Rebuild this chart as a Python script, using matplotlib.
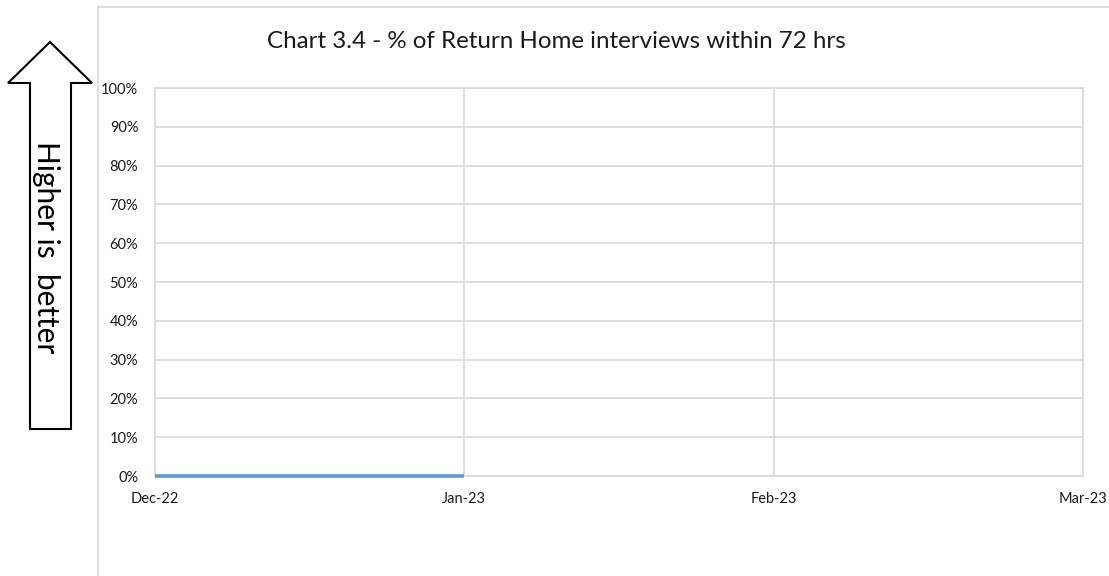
import numpy as np
import matplotlib.pyplot as plt
from matplotlib.patches import Polygon
from matplotlib.lines import Line2D


##### Chart data

months = ['Dec-22', 'Jan-23', 'Feb-23', 'Mar-23']
pct_within_72h = [0.0, 0.0, np.nan, np.nan]
y_ticks = np.arange(0, 1.01, 0.1)

title_text = 'Chart 3.4 - % of Return Home interviews within 72 hrs'
arrow_text = 'Higher is  better'

W, H = 1109, 576
plt.rcParams['font.family'] = ['Lato', 'DejaVu Sans']

fig = plt.figure(figsize=(W / 100, H / 100), dpi=100)


def px(x, y):
    # pixel coords (top-left origin) -> figure fraction
    return (x / W, 1 - y / H)


##### Chart area frame (Excel style, partly cut off)
frame_col = '#d9d9d9'
fig.add_artist(Line2D([98 / W, 98 / W], [1 - 7 / H, 0], color=frame_col, lw=1.2, transform=fig.transFigure))
fig.add_artist(Line2D([98 / W, 1], [1 - 7 / H, 1 - 7 / H], color=frame_col, lw=1.2, transform=fig.transFigure))

##### Plot area
l, r, t, b = 155, 1083, 88, 476
ax = fig.add_axes([l / W, 1 - b / H, (r - l) / W, (b - t) / H])

x = np.arange(len(months))
ax.plot(x, pct_within_72h, color='#5b9bd5', lw=2.6, solid_capstyle='butt', zorder=3, clip_on=False)

ax.set_xlim(0, len(months) - 1)
ax.set_ylim(0, 1)
ax.set_xticks(x)
ax.set_xticklabels(months)
ax.set_yticks(y_ticks)
ax.set_yticklabels([f'{int(round(v * 100))}%' for v in y_ticks])

grid_col = '#d9d9d9'
ax.grid(True, color=grid_col, lw=1.2)
ax.set_axisbelow(True)
for s in ax.spines.values():
    s.set_color(grid_col)
    s.set_linewidth(1.2)
ax.tick_params(length=0, colors='#404040')
ax.tick_params(axis='x', pad=11.5, labelsize=10.5)
ax.tick_params(axis='y', pad=12, labelsize=10.5)
for lab in ax.get_xticklabels() + ax.get_yticklabels():
    lab.set_color('#1a1a1a')

fig.text(556 / W, 1 - 42 / H, title_text, ha='center', va='center', fontsize=17.4, color='#1a1a1a')

##### "Higher is better" block arrow
arrow_px = [(30, 429), (30, 83), (8, 83), (50, 42), (92, 83), (71, 83), (71, 429)]
arrow = Polygon([px(a, b_) for a, b_ in arrow_px], closed=True, facecolor='white',
                edgecolor='black', lw=1.5, transform=fig.transFigure)
fig.add_artist(arrow)
fig.text(46 / W, 1 - 247 / H, arrow_text, rotation=-90, ha='center', va='center',
         fontsize=21.5, color='black')

fig.savefig('out.png', dpi=100)
